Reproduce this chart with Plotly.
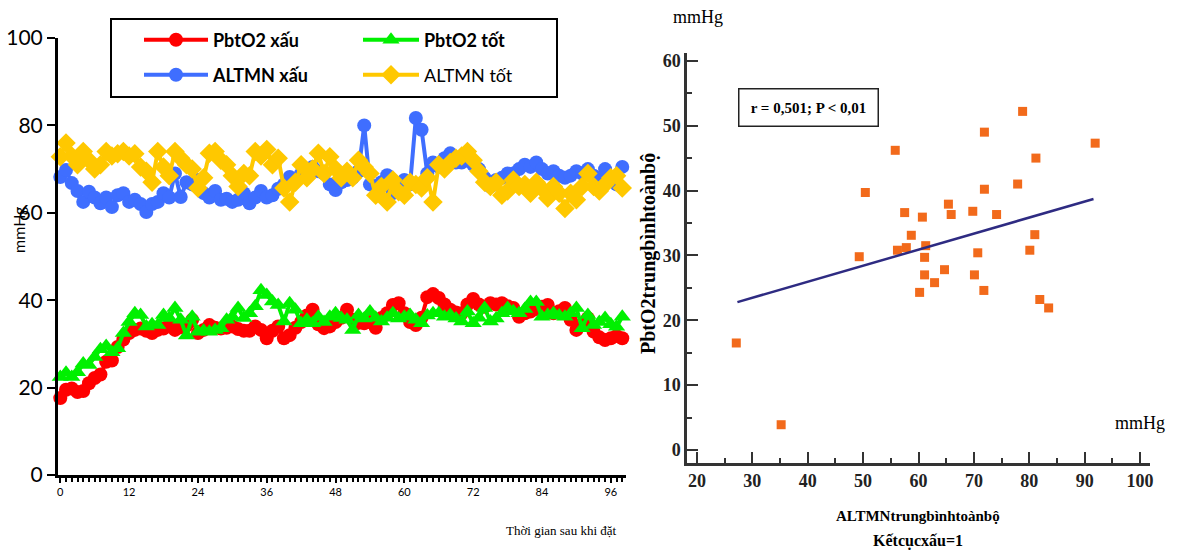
import plotly.graph_objects as go

W, H = 1186, 550

# ---- Left panel: hourly values after placement ----
hours = list(range(0, 99))

pbto2_xau = [17.6, 19.5, 19.8, 19.0, 19.2, 21.0, 22.2, 23.0, 25.9, 26.2,
             29.3, 31.0, 32.5, 33.2, 33.5, 33.0, 32.5, 33.2, 33.5, 34.3,
             33.2, 33.8, 34.2, 35.5, 32.5, 33.2, 34.3, 33.7, 33.5, 33.7,
             34.0, 33.4, 33.0, 33.0, 34.0, 33.2, 31.3, 33.0, 34.0, 31.3,
             32.0, 33.7, 35.0, 36.5, 37.8, 34.5, 33.6, 34.0, 35.0, 36.0,
             37.8, 35.5, 34.8, 34.7, 35.0, 33.7, 35.9, 37.0, 38.9, 39.3,
             37.0, 35.0, 34.3, 36.0, 40.7, 41.4, 40.5, 39.0, 37.8, 37.2,
             37.0, 39.0, 40.3, 39.0, 38.5, 39.3, 39.0, 39.3, 38.6, 38.2,
             36.2, 37.0, 37.4, 38.0, 38.5, 38.9, 37.0, 37.5, 38.2, 35.5,
             33.2, 34.5, 35.9, 32.8, 31.5, 30.9, 31.3, 31.8, 31.3]

pbto2_tot = [22.4, 23.4, 22.4, 23.5, 25.5, 25.2, 27.0, 28.8, 29.5, 28.1,
             29.0, 32.5, 35.0, 37.0, 36.6, 34.0, 34.5, 34.3, 36.6, 35.9,
             38.2, 35.5, 31.9, 36.2, 32.8, 33.0, 32.8, 33.2, 33.6, 35.5,
             36.2, 38.2, 35.9, 37.0, 38.6, 42.3, 41.2, 39.7, 38.9, 35.1,
             39.3, 37.8, 34.7, 35.5, 34.7, 36.2, 35.0, 36.2, 37.0, 35.9,
             35.5, 33.2, 36.6, 35.8, 37.4, 36.0, 35.1, 36.0, 37.0, 35.8,
             36.2, 36.6, 35.5, 34.7, 36.5, 37.0, 37.0, 36.2, 36.6, 35.8,
             35.1, 37.4, 34.7, 36.0, 38.2, 35.1, 35.8, 37.0, 38.2, 37.5,
             37.0, 38.0, 39.6, 39.6, 36.2, 36.6, 37.0, 36.5, 36.2, 37.0,
             38.2, 33.6, 36.6, 34.3, 35.0, 35.9, 34.5, 33.9, 36.2]

altmn_xau = [68.2, 69.8, 66.8, 65.0, 62.5, 64.8, 63.5, 62.2, 63.5, 61.3,
             64.0, 64.5, 62.5, 63.0, 62.0, 60.2, 62.0, 62.5, 64.5, 63.5,
             69.0, 63.6, 67.0, 66.5, 67.5, 64.5, 63.5, 65.0, 63.0, 63.2,
             62.5, 63.0, 64.5, 62.2, 63.5, 65.0, 63.5, 64.0, 65.5, 66.5,
             68.2, 67.5, 69.0, 69.5, 70.5, 69.5, 69.0, 66.5, 65.2, 67.0,
             67.5, 68.0, 69.5, 80.0, 66.5, 66.0, 67.0, 68.6, 64.5, 66.0,
             67.5, 66.5, 81.7, 79.0, 69.0, 71.5, 70.5, 72.5, 73.6, 71.5,
             71.5, 72.0, 71.0, 70.0, 68.0, 66.0, 67.5, 68.0, 69.0, 69.0,
             70.0, 71.0, 70.5, 71.5, 70.0, 69.0, 69.5, 68.5, 68.0, 68.5,
             69.5, 69.0, 70.0, 68.5, 67.5, 70.0, 68.0, 66.5, 70.5]

altmn_tot = [72.8, 76.0, 73.0, 71.0, 74.0, 72.0, 70.0, 71.0, 74.0, 73.0,
             73.5, 74.0, 73.0, 73.5, 70.5, 69.5, 67.0, 74.0, 70.5, 68.5,
             74.0, 72.5, 71.0, 70.0, 65.7, 68.0, 73.6, 74.0, 72.0, 71.0,
             68.5, 66.0, 69.0, 68.5, 74.0, 73.0, 74.5, 71.0, 72.5, 65.7,
             62.5, 67.0, 71.0, 68.0, 70.0, 73.6, 69.0, 72.8, 70.0, 68.0,
             69.5, 68.0, 72.0, 70.5, 69.0, 64.0, 66.0, 62.5, 67.5, 64.8,
             64.0, 67.0, 66.5, 65.7, 68.0, 62.5, 71.0, 70.0, 71.5, 72.5,
             73.0, 74.0, 72.0, 69.5, 67.0, 66.0, 67.0, 64.0, 65.0, 67.5,
             66.0, 66.5, 64.5, 67.0, 65.5, 63.4, 66.0, 64.5, 61.0, 64.5,
             63.0, 66.0, 69.0, 66.0, 65.0, 66.5, 68.0, 68.5, 65.7]

hour_ticks = [0, 12, 24, 36, 48, 60, 72, 84, 96]
mmhg_ticks = [0, 20, 40, 60, 80, 100]

# ---- Right panel: mean ALTMN vs mean PbtO2, poor outcome group ----
altmn_mean = [27.1, 35.2, 49.3, 50.4, 55.8, 56.2, 57.5, 57.8, 58.7, 60.7,
              60.2, 61.3, 61.1, 61.1, 62.9, 64.7, 65.4, 65.9, 69.8, 70.1,
              70.7, 71.9, 71.9, 71.8, 74.1, 77.9, 78.8, 80.1, 81.2, 81.0,
              81.9, 83.5, 91.9]
pbto2_mean = [16.5, 3.9, 29.8, 39.7, 46.2, 30.8, 36.6, 31.2, 33.1, 35.9,
              24.3, 31.5, 29.7, 27.0, 25.8, 27.8, 37.9, 36.3, 36.8, 27.0,
              30.4, 49.0, 40.2, 24.6, 36.3, 41.0, 52.2, 30.8, 45.0, 33.2,
              23.2, 21.9, 47.3]
fit_x = [27.3, 91.6]
fit_y = [22.8, 38.7]

altmn_ticks = [20, 30, 40, 50, 60, 70, 80, 90, 100]
pbto2_ticks = [0, 10, 20, 30, 40, 50, 60]

RED = "#FF0000"
GREEN = "#00F000"
BLUE = "#3F6EFF"
GOLD = "#FFC800"
ORANGE = "#F26A1B"
NAVY = "#2E2B82"

SANS = "Lato, 'Open Sans', sans-serif"
SERIF = "'Liberation Serif', 'DejaVu Serif', serif"


def px(x):
    return x / W


def py(y):
    return 1 - y / H


fig = go.Figure()

series = [
    ("<b>PbtO2 xấu</b>", pbto2_xau, RED, "circle", 14, "legend"),
    ("<b>ALTMN xấu</b>", altmn_xau, BLUE, "circle", 14, "legend2"),
    ("<b>PbtO2 tốt</b>", pbto2_tot, GREEN, "triangle-up", 15, "legend3"),
    ("ALTMN tốt", altmn_tot, GOLD, "diamond", 15, "legend4"),
]
for name, vals, color, sym, size, leg in series:
    fig.add_trace(go.Scatter(
        x=hours, y=vals, name=name, mode="lines+markers",
        line=dict(color=color, width=4),
        marker=dict(color=color, symbol=sym, size=size, line=dict(width=0)),
        xaxis="x", yaxis="y", legend=leg, cliponaxis=False,
    ))

fig.add_trace(go.Scatter(
    x=altmn_mean, y=pbto2_mean, mode="markers", showlegend=False,
    marker=dict(color=ORANGE, symbol="square", size=9, line=dict(width=0)),
    xaxis="x2", yaxis="y2",
))
fig.add_trace(go.Scatter(
    x=fit_x, y=fit_y, mode="lines", showlegend=False,
    line=dict(color=NAVY, width=2.5),
    xaxis="x2", yaxis="y2",
))


def leg(x, y, iw):
    return dict(
        x=px(x), y=py(y), xanchor="left", yanchor="middle",
        bgcolor="rgba(0,0,0,0)", borderwidth=0, itemwidth=iw,
        itemsizing="trace",
        font=dict(family=SANS, size=18, color="#000"),
    )


fig.update_layout(
    width=W, height=H,
    margin=dict(l=0, r=0, t=0, b=0, autoexpand=False),
    paper_bgcolor="white", plot_bgcolor="white",
    showlegend=True,
    legend=leg(139, 40, 64),
    legend2=leg(139, 75, 64),
    legend3=leg(358, 40, 56),
    legend4=leg(358, 75, 56),
    xaxis=dict(
        domain=[px(58), px(626)], range=[-0.4, 98.65],
        tickvals=hour_ticks, ticks="outside", ticklen=5, tickwidth=2,
        tickcolor="#000",
        minor=dict(dtick=1, tick0=0, ticks="outside", ticklen=4,
                   tickwidth=2, tickcolor="#000"),
        showline=True, linewidth=3, linecolor="#000",
        showgrid=False, zeroline=False, automargin=False,
        tickfont=dict(family=SANS, size=11, color="#000"),
        anchor="y",
    ),
    yaxis=dict(
        domain=[py(475), py(38)], range=[0, 100],
        tickvals=mmhg_ticks, ticks="outside", ticklen=8, tickwidth=2,
        tickcolor="#000",
        showline=True, linewidth=3, linecolor="#000",
        showgrid=False, zeroline=False, automargin=False,
        tickfont=dict(family=SANS, size=21, color="#000"),
        anchor="x",
    ),
    xaxis2=dict(
        domain=[px(687), px(1150)], range=[18.2, 101.8],
        tickvals=altmn_ticks, ticks="inside", ticklen=11, tickwidth=1.5,
        tickcolor="#333",
        minor=dict(dtick=5, tick0=0, ticks="inside", ticklen=5,
                   tickwidth=1.5, tickcolor="#333"),
        showline=True, linewidth=2.5, linecolor="#333",
        showgrid=False, zeroline=False, automargin=False,
        tickfont=dict(family=SERIF, size=18, color="#222", weight="bold"),
        anchor="y2",
    ),
    yaxis2=dict(
        domain=[py(463), py(53)], range=[-2, 61.2],
        tickvals=pbto2_ticks, ticks="inside", ticklen=11, tickwidth=1.5,
        tickcolor="#333",
        minor=dict(dtick=5, tick0=0, ticks="inside", ticklen=5,
                   tickwidth=1.5, tickcolor="#333"),
        showline=True, linewidth=2.5, linecolor="#333",
        showgrid=False, zeroline=False, automargin=False,
        tickfont=dict(family=SERIF, size=18, color="#222", weight="bold"),
        anchor="x2",
    ),
)

# legend frame
fig.add_shape(type="rect", xref="paper", yref="paper",
              x0=px(111), x1=px(557), y0=py(97), y1=py(19),
              line=dict(color="#000", width=2), fillcolor="rgba(0,0,0,0)")

annotations = [
    dict(text="mmHg", x=px(18), y=py(230), textangle=-90,
         font=dict(family=SANS, size=16, color="#000")),
    dict(text="Thời gian sau khi đặt", x=px(561), y=py(530),
         font=dict(family=SERIF, size=13, color="#000")),
    dict(text="mmHg", x=px(698), y=py(17),
         font=dict(family=SERIF, size=18, color="#000")),
    dict(text="mmHg", x=px(1140), y=py(423),
         font=dict(family=SERIF, size=18, color="#000")),
    dict(text="<b>PbtO2trungbìnhtoànbộ</b>", x=px(648), y=py(254),
         textangle=-90, font=dict(family=SERIF, size=20, color="#000")),
    dict(text="<b>ALTMNtrungbìnhtoànbộ</b>", x=px(918), y=py(516),
         font=dict(family=SERIF, size=15, color="#000")),
    dict(text="<b>Kếtcụcxấu=1</b>", x=px(918), y=py(541),
         font=dict(family=SERIF, size=16, color="#000")),
    dict(text="<b>r = 0,501; P < 0,01</b>", x=px(808), y=py(108),
         width=136, height=34, bordercolor="#222", borderwidth=1.5,
         bgcolor="white",
         font=dict(family=SERIF, size=15, color="#000")),
]
for a in annotations:
    fig.add_annotation(xref="paper", yref="paper", showarrow=False,
                       xanchor="center", yanchor="middle", **a)

fig.write_html("out.html")
